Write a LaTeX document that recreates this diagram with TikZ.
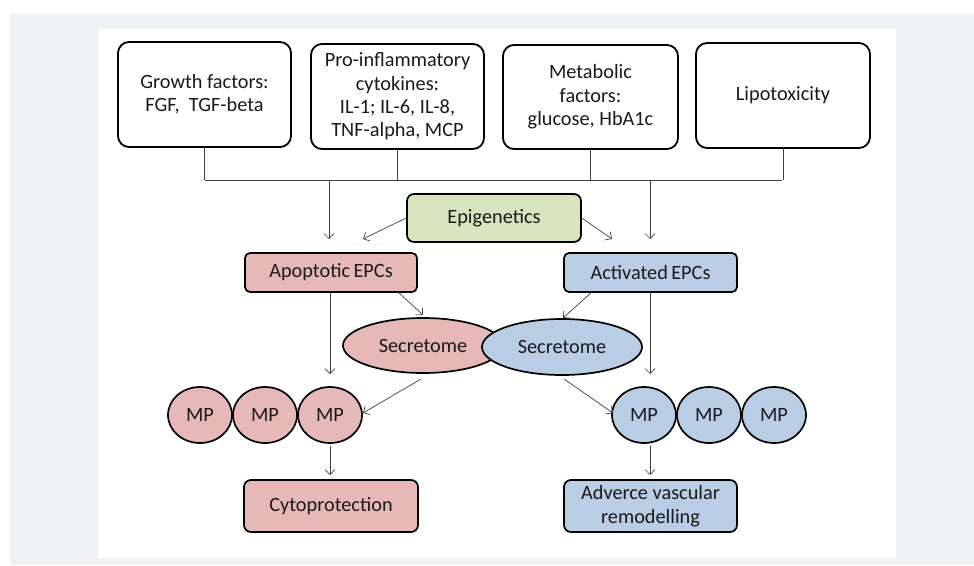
\documentclass[tikz,border=0pt]{standalone}
\usepackage{fontspec}
\setmainfont{Carlito}
\usetikzlibrary{arrows.meta,shapes.geometric}
\definecolor{panel}{HTML}{EEF2F5}
\definecolor{pinkf}{HTML}{E6B9B8}
\definecolor{bluef}{HTML}{B9CDE5}
\definecolor{greenf}{HTML}{D7E4BD}
\definecolor{conn}{HTML}{404040}
\definecolor{txt}{HTML}{1A1A1A}
\tikzset{
  topbox/.style={draw=black, line width=1.8pt, rounded corners=11pt, fill=white,
    minimum width=173pt, minimum height=105pt, align=center, inner sep=2pt, text=txt},
  midbox/.style={draw=black, line width=1.7pt, rounded corners=5pt,
    minimum width=173pt, align=center, inner sep=2pt, text=txt},
  ell/.style={draw=black, line width=1.7pt, ellipse, inner sep=0pt, text=txt},
  mp/.style={ell, minimum width=64pt, minimum height=56pt},
  sec/.style={ell, minimum width=160pt, minimum height=56pt},
  link/.style={draw=conn, line width=0.7pt},
  arr/.style={link, -{Straight Barb[length=5pt,width=10pt]}}
}
\begin{document}
\begin{tikzpicture}[x=1pt,y=-1pt,font=\fontsize{20.3}{23.4}\selectfont]
\useasboundingbox (0,0) rectangle (974,565);
\fill[white] (0,0) rectangle (974,565);
\fill[panel] (10,14) rectangle (974,565);
\fill[white] (98,29) rectangle (896,558);

% top boxes
\node[topbox] (gf) at (204.5,94.5) {Growth factors:\\FGF,\ \ TGF-beta};
\node[topbox] (pi) at (397.5,96.5) {Pro-inflammatory\\cytokines:\\IL-1; IL-6, IL-8,\\TNF-alpha, MCP};
\node[topbox, minimum width=175pt, minimum height=104pt] (mf) at (590.5,97) {Metabolic\\factors:\\glucose, HbA1c};
\node[topbox, minimum width=174pt] (lt) at (783,95.5) {Lipotoxicity};

% bus
\coordinate (busL) at (205,180);
\coordinate (busR) at (782,180);
\coordinate (busA) at (329,180);
\coordinate (busB) at (650,180);
\draw[link] (gf.south) -- (gf.south |- busL);
\draw[link] (pi.south) -- (pi.south |- busL);
\draw[link] (mf.south) -- (mf.south |- busL);
\draw[link] (lt.south) -- (lt.south |- busL);
\draw[link] (busL) -- (busR);

% epigenetics and EPCs
\node[midbox, fill=greenf, minimum width=174pt, minimum height=48pt, rounded corners=7pt] (epi) at (494,218) {Epigenetics};
\node[midbox, fill=pinkf, minimum width=172pt, minimum height=39pt] (apo) at (331,272.5) {Apoptotic\,EPCs};
\node[midbox, fill=bluef, minimum height=39pt] (act) at (650.5,272.5) {Activated\,EPCs};

\coordinate (aA) at (329,239);
\coordinate (aB) at (650,239);
\coordinate (eA) at (363,239);
\coordinate (eB) at (612,239);
\draw[arr] (busA) -- (aA);
\draw[arr] (busB) -- (aB);
\draw[arr] (epi.west) -- (eA);
\draw[arr] (epi.east) -- (eB);

% secretomes
\node[sec, fill=pinkf, minimum height=55pt] (sp) at (423,345.5) {Secretome};
\node[sec, fill=bluef] (sb) at (562,347) {Secretome};

\coordinate (apoS) at (398,292);
\coordinate (actS) at (592,292);
\coordinate (spT) at (423,315);
\coordinate (sbT) at (563,318);
\draw[arr] (apoS) -- (spT);
\draw[arr] (actS) -- (sbT);

% MPs
\node[mp, fill=pinkf] (p1) at (200,415) {MP};
\node[mp, fill=pinkf] (p2) at (265,415) {MP};
\node[mp, fill=pinkf] (p3) at (330,415) {MP};
\node[mp, fill=bluef] (b1) at (644,415) {MP};
\node[mp, fill=bluef] (b2) at (709,415) {MP};
\node[mp, fill=bluef] (b3) at (774,415) {MP};

\coordinate (apoV) at (330,374);
\coordinate (actV) at (650,374);
\draw[arr] (apo.south -| apoV) -- (apoV);
\draw[arr] (act.south -| actV) -- (actV);

\coordinate (spB) at (421,379);
\coordinate (sbB) at (564,379);
\coordinate (p3E) at (363,413);
\coordinate (b1W) at (613,413);
\draw[arr] (spB) -- (p3E);
\draw[arr] (sbB) -- (b1W);

% outcomes
\node[midbox, fill=pinkf, minimum width=174pt, minimum height=52pt, rounded corners=7pt] (cy) at (331,506) {Cytoprotection};
\node[midbox, fill=bluef, minimum height=52pt, rounded corners=7pt] (av) at (650.5,506) {Adverce vascular\\remodelling};

\coordinate (cyS) at (330,446);
\coordinate (avS) at (650,446);
\coordinate (cyT) at (330,475);
\coordinate (avT) at (650,475);
\draw[arr] (cyS) -- (cyT);
\draw[arr] (avS) -- (avT);
\end{tikzpicture}
\end{document}
